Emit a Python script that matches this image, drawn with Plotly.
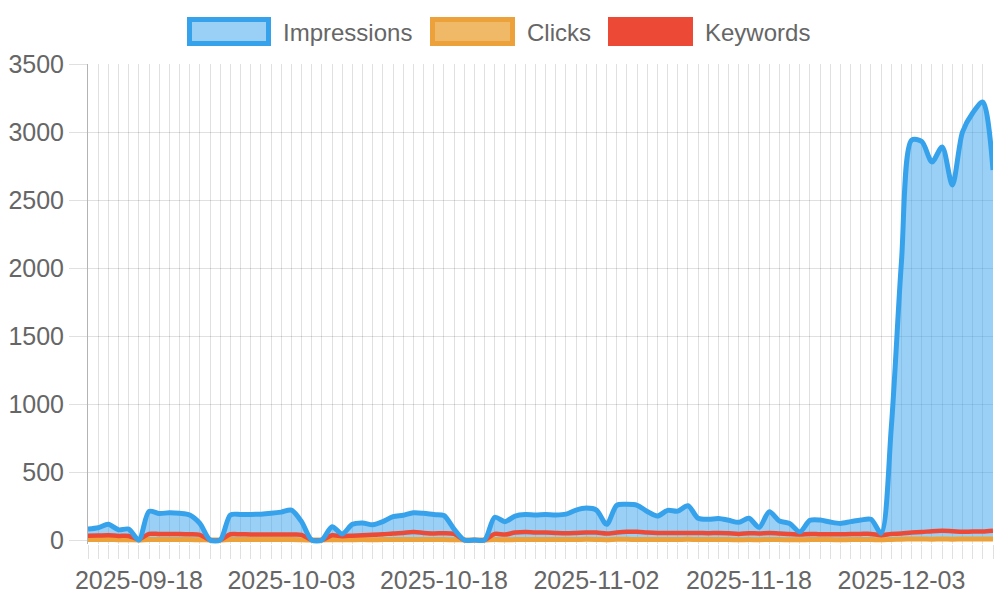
import pandas as pd
import plotly.graph_objects as go

# ---- data ----
_all_days = pd.date_range("2025-09-13", "2025-12-12", freq="D").strftime("%Y-%m-%d").tolist()
DATES = [d for d in _all_days if d != "2025-11-09"]

TICK_LABELS = ["2025-09-18", "2025-10-03", "2025-10-18", "2025-11-02", "2025-11-18", "2025-12-03"]

IMPRESSIONS = [
    80, 90, 115, 75, 80, 0, 210, 195, 200, 196,
    184, 122, 0, 0, 184, 188, 188, 190, 196, 205,
    220, 135, 0, 0, 98, 44, 115, 125, 112, 135,
    172, 182, 200, 196, 187, 180, 80, 0, 0, 0,
    167, 135, 176, 187, 184, 187, 184, 190, 220, 235,
    220, 115, 255, 262, 255, 210, 176, 218, 212, 252,
    160, 152, 158, 145, 130, 160, 93, 208, 140, 122,
    60, 145, 147, 132, 122, 135, 147, 152, 50, 830,
    2050, 2940, 2930, 2780, 2890, 2610, 3000, 3140, 3220, 2720,
]

CLICKS = [
    3, 3, 4, 2, 2, 0, 4, 3, 4, 3,
    3, 2, 0, 0, 3, 3, 3, 4, 3, 3,
    4, 2, 0, 0, 2, 1, 2, 3, 2, 3,
    3, 4, 4, 3, 3, 3, 2, 0, 0, 0,
    3, 2, 3, 4, 3, 3, 3, 4, 4, 5,
    4, 2, 5, 5, 4, 4, 3, 4, 4, 5,
    3, 3, 3, 3, 2, 3, 2, 4, 3, 2,
    1, 3, 3, 3, 2, 3, 3, 3, 1, 4,
    6, 7, 7, 6, 7, 6, 7, 7, 8, 7,
]

KEYWORDS = [
    32, 33, 35, 30, 30, 5, 45, 44, 45, 44,
    42, 38, 0, 0, 42, 42, 41, 40, 40, 40,
    40, 38, 0, 0, 35, 28, 32, 35, 38, 42,
    48, 52, 58, 52, 48, 50, 45, 0, 0, 0,
    45, 40, 55, 58, 55, 55, 52, 50, 52, 55,
    55, 48, 55, 60, 60, 55, 52, 52, 52, 52,
    52, 50, 52, 50, 45, 50, 48, 52, 48, 45,
    40, 45, 42, 42, 42, 44, 45, 45, 35, 45,
    48, 55, 58, 65, 68, 65, 60, 62, 62, 68,
]

# ---- styles ----
BLUE = "#36A2EB"
BLUE_FILL = "rgba(54,162,235,0.5)"
ORANGE = "#ECA13A"
ORANGE_FILL = "rgba(236,161,58,0.7)"
RED = "#EC4A36"
GRID = "rgba(0,0,0,0.12)"
TXT = "#666666"
FONT = "Liberation Sans"

fig = go.Figure()

# fills first (below all lines)
fig.add_trace(go.Scatter(x=DATES, y=CLICKS, mode="lines", fill="tozeroy",
                         fillcolor=ORANGE_FILL, line=dict(width=0, shape="spline", smoothing=0.8),
                         showlegend=False, hoverinfo="skip"))
fig.add_trace(go.Scatter(x=DATES, y=IMPRESSIONS, mode="lines", fill="tozeroy",
                         fillcolor=BLUE_FILL, line=dict(width=0, shape="spline", smoothing=0.8),
                         showlegend=False, hoverinfo="skip"))
# lines
fig.add_trace(go.Scatter(x=DATES, y=CLICKS, mode="lines", name="Clicks",
                         line=dict(color=ORANGE, width=5, shape="spline", smoothing=0.8)))
fig.add_trace(go.Scatter(x=DATES, y=KEYWORDS, mode="lines", name="Keywords",
                         line=dict(color=RED, width=4.5, shape="spline", smoothing=0.8)))
fig.add_trace(go.Scatter(x=DATES, y=IMPRESSIONS, mode="lines", name="Impressions",
                         line=dict(color=BLUE, width=5, shape="spline", smoothing=0.8)))

ticktext = [d if d in TICK_LABELS else "" for d in DATES]

fig.update_layout(
    width=1000, height=600,
    margin=dict(l=88, r=7, t=64, b=56, autoexpand=False),
    paper_bgcolor="white", plot_bgcolor="white",
    showlegend=False,
    font=dict(family=FONT, size=25, color=TXT),
    xaxis=dict(
        type="category", categoryorder="array", categoryarray=DATES,
        range=[0, len(DATES) - 1], automargin=False,
        tickmode="array", tickvals=DATES, ticktext=ticktext, tickangle=0,
        ticks="outside", ticklen=14, tickcolor=GRID, tickwidth=1,
        showgrid=True, gridcolor=GRID, gridwidth=1,
        showline=False, zeroline=False,
        tickfont=dict(family=FONT, size=25, color=TXT),
    ),
    yaxis=dict(
        range=[-29.4, 3500], tick0=0, dtick=500, automargin=False,
        ticks="outside", ticklen=18, tickcolor=GRID, tickwidth=1,
        showgrid=True, gridcolor=GRID, gridwidth=1,
        zeroline=False, showline=True, linecolor="#b3b3b3", linewidth=1,
        tickfont=dict(family=FONT, size=25, color=TXT),
    ),
)

# ---- custom legend (boxes with border, like the reference) ----
legend_items = [
    ("Impressions", BLUE, "#9AD0F5", 101.5, 180.5),
    ("Clicks", ORANGE, "#F0B968", 344.5, 424.5),
    ("Keywords", RED, RED, 522.5, 602.5),
]
for name, border, fill, x0, x1 in legend_items:
    fig.add_shape(type="rect", xref="paper", yref="paper",
                  xsizemode="pixel", ysizemode="pixel", xanchor=0, yanchor=1,
                  x0=x0, x1=x1, y0=20.5, y1=44.5,
                  line=dict(color=border, width=5), fillcolor=fill, layer="above")
    fig.add_annotation(xref="paper", yref="paper", x=(x1 + 2.5 + 10) / 905, y=(544 - 32) / 480,
                       xanchor="left", yanchor="middle", text=name, showarrow=False,
                       font=dict(family=FONT, size=24, color=TXT))

fig.write_html("out.html", config={"displayModeBar": False},
               post_script="document.body.style.margin='0';document.body.style.padding='0';")
